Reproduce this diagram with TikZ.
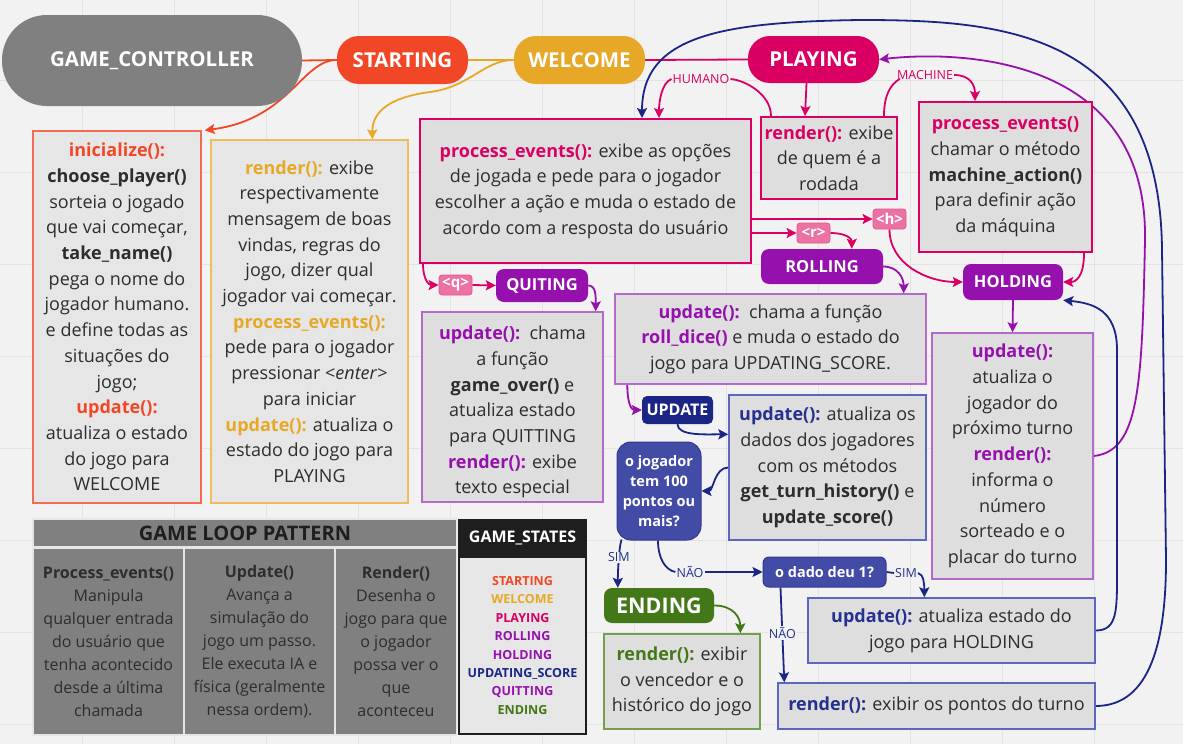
\documentclass[tikz,border=0pt]{standalone}
\usepackage{fontspec}
\setmainfont{Open Sans}
\usetikzlibrary{arrows.meta,calc}
\pgfdeclarelayer{background}
\pgfdeclarelayer{edges}
\pgfsetlayers{background,edges,main}
\definecolor{bgc}{HTML}{F2F2F2}
\definecolor{gridc}{HTML}{E3E3E3}
\definecolor{txt}{HTML}{2D2D2D}
\definecolor{txtdk}{HTML}{1E1E1E}
\definecolor{boxl}{HTML}{E6E6E6}
\definecolor{boxd}{HTML}{DEDEDE}
\definecolor{gcc}{HTML}{808080}
\definecolor{cstart}{HTML}{F24726}
\definecolor{cstartb}{HTML}{F26B52}
\definecolor{cwel}{HTML}{E6A826}
\definecolor{cwelb}{HTML}{EDBE5C}
\definecolor{cplay}{HTML}{DA0063}
\definecolor{cpink}{HTML}{EC72A3}
\definecolor{cpinkd}{HTML}{E0568D}
\definecolor{cpurp}{HTML}{9510AC}
\definecolor{cpurpb}{HTML}{B46ACD}
\definecolor{cupd}{HTML}{1A2585}
\definecolor{cblue}{HTML}{424BA6}
\definecolor{cbluedk}{HTML}{2F3894}
\definecolor{cbluet}{HTML}{25308F}
\definecolor{cblueb}{HTML}{5A66BF}
\definecolor{cgreen}{HTML}{437818}
\definecolor{cgreenb}{HTML}{73A04C}
\newcommand\fs[2]{\fontsize{#1}{#2}\selectfont}
\newcommand\kw[2]{\textcolor{#1}{\textbf{#2}}}
\begin{document}
\begin{tikzpicture}[x=1pt,y=-1pt,
  box/.style={draw=#1, line width=1.4pt, inner sep=0pt, align=center, text=txt, font=\fs{18}{25.7}},
  st/.style={fill=#1, text=white, inner sep=0pt, font=\bfseries\fs{20.5}{24}},
  sst/.style={st=#1, font=\bfseries\fs{16.5}{20}, rounded corners=8pt},
  tag/.style={fill=cpink, draw=cpinkd, line width=0.8pt, rounded corners=3pt, text=white, font=\bfseries\fs{15}{16}, minimum width=33pt, minimum height=20pt, inner sep=0pt},
  lbl/.style={font=\fs{12.5}{14}, inner sep=1pt},
  cell/.style={fill=gcc, text=txt, font=\fs{16}{23}, align=center, inner sep=0pt, minimum height=185pt},
  ln/.style={line width=1.8pt},
  arr/.style={line width=1.8pt, -{Stealth[length=10pt,width=10pt,inset=2pt]}}
]
\useasboundingbox (0,0) rectangle (1183,744);
\begin{pgfonlayer}{background}
\fill[bgc] (0,0) rectangle (1183,744);
\foreach \x in {82,174,...,1094} \draw[gridc, line width=1pt] (\x,0) -- (\x,744);
\foreach \y in {80,172,...,724} \draw[gridc, line width=1pt] (0,\y) -- (1183,\y);
\end{pgfonlayer}

% state pills
\node[st=gcc, minimum width=300pt, minimum height=91pt, rounded corners=45pt] (gc) at (152,60.5) {GAME\_CONTROLLER};
\node[st=cstart, minimum width=131pt, minimum height=48pt, rounded corners=22pt] (starting) at (402.5,60) {STARTING};
\node[st=cwel, minimum width=131pt, minimum height=48pt, rounded corners=22pt] (welcome) at (579.5,60) {WELCOME};
\node[st=cplay, minimum width=131pt, minimum height=47pt, rounded corners=22pt] (playing) at (813.5,59.5) {PLAYING};
\node[sst=cpurp, minimum width=122pt, minimum height=35pt] (rolling) at (822,266.5) {ROLLING};
\node[sst=cpurp, minimum width=92pt, minimum height=33pt] (quiting) at (542,285.5) {QUITING};
\node[sst=cpurp, minimum width=100pt, minimum height=36pt] (holding) at (1013,282) {HOLDING};
\node[sst=cupd, minimum width=71pt, minimum height=28pt, rounded corners=5pt, font=\bfseries\fs{16}{20}] (update) at (677.5,410) {UPDATE};
\node[sst=cgreen, minimum width=110pt, minimum height=35pt, font=\bfseries\fs{21.5}{24}] (ending) at (659,605.5) {ENDING};

% boxes
\node[box=cstartb, fill=boxl, minimum width=168pt, minimum height=372pt] (initbox) at (117,317) {\kw{cstart}{inicialize():}\\ \textbf{choose\_player()}\\ sorteia o jogado\\ que vai começar,\\ \textbf{take\_name()}\\ pega o nome do\\ jogador humano.\\ e define todas as\\ situações do\\ jogo;\\ \kw{cstart}{update():}\\ atualiza o estado\\ do jogo para\\ WELCOME};
\node[box=cwelb, fill=boxl, minimum width=197pt, minimum height=363pt] (welbox) at (309.5,321.5) {\kw{cwel}{render():} exibe\\ respectivamente\\ mensagem de boas\\ vindas, regras do\\ jogo, dizer qual\\ jogador vai começar.\\ \kw{cwel}{process\_events():}\\ pede para o jogador\\ pressionar <\textit{enter}>\\ para iniciar\\ \kw{cwel}{update():} atualiza o\\ estado do jogo para\\ PLAYING};
\node[box=cplay, fill=boxd, line width=2pt, minimum width=331pt, minimum height=144pt] (pebox) at (585.5,191) {\kw{cplay}{process\_events():} exibe as opções\\ de jogada e pede para o jogador\\ escolher a ação e muda o estado de\\ acordo com a resposta do usuário};
\node[box=cplay, fill=boxd, line width=2pt, minimum width=136pt, minimum height=82pt] (rendbox) at (829,158) {\kw{cplay}{render():} exibe\\ de quem é a\\ rodada};
\node[box=cplay, fill=boxd, line width=2pt, minimum width=173pt, minimum height=150pt] (machbox) at (1005.5,177) {\kw{cplay}{process\_events()}\\ chamar o método\\ \textbf{machine\_action()}\\ para definir ação\\ da máquina};
\node[box=cpurpb, fill=boxd, minimum width=181pt, minimum height=190pt] (quitbox) at (512.5,407) {\rule{0pt}{24pt}\kw{cpurp}{update():}\ \ chama\\ a função\\ \textbf{game\_over()} e\\ atualiza estado\\ para QUITTING\\ \kw{cpurp}{render():} exibe\\ texto especial};
\node[box=cpurpb, fill=boxd, minimum width=311pt, minimum height=90pt] (rollbox) at (770.5,339) {\kw{cpurp}{update():}\ \ chama a função\\ \kw{cpurp}{roll\_dice()} e muda o estado do\\ jogo para UPDATING\_SCORE.};
\node[box=cblueb, fill=boxd, minimum width=197pt, minimum height=145pt] (updbox) at (827.5,467.5) {\kw{cbluet}{update():} atualiza os\\ dados dos jogadores\\ com os métodos\\ \textbf{get\_turn\_history()} e\\ \textbf{update\_score()}};
\node[box=cpurpb, fill=boxd, minimum width=161pt, minimum height=246pt] (holdbox) at (1012.5,456) {\kw{cpurp}{update():}\\ atualiza o\\ jogador do\\ próximo turno\\ \kw{cpurp}{render():}\\ informa o\\ número\\ sorteado e o\\ placar do turno};
\node[box=cblueb, fill=boxd, minimum width=287pt, minimum height=65pt] (holdupd) at (951.5,630.5) {\kw{cbluet}{update():} atualiza estado do\\ jogo para HOLDING};
\node[box=cblueb, fill=boxd, minimum width=317pt, minimum height=46pt] (renderpts) at (936.5,706) {\kw{cbluet}{render():} exibir os pontos do turno};
\node[box=cgreenb, fill=boxd, minimum width=156pt, minimum height=95pt] (endbox) at (682,681.5) {\kw{cgreen}{render():} exibir\\ o vencedor e o\\ histórico do jogo};

% tags
\node[tag] (htag) at (889.5,219) {<h>};
\node[tag] (rtag) at (813.5,233) {<r>};
\node[tag] (qtag) at (455.5,285) {<q>};

% decisions
\node[fill=cblue, draw=cbluedk, line width=1pt, text=white, font=\bfseries\fs{14.5}{20}, rounded corners=14pt, minimum width=84pt, minimum height=98pt, align=center, inner sep=0pt] (dec) at (659,491) {o jogador\\ tem 100\\ pontos ou\\ mais?};
\node[fill=cblue, draw=cbluedk, line width=1pt, text=white, font=\bfseries\fs{14.5}{18}, rounded corners=6pt, minimum width=123pt, minimum height=30pt, inner sep=0pt] (dado) at (824.5,572) {o dado deu 1?};

% game loop table
\fill[boxl] (32,518) rectangle (457,736);
\node[fill=gcc, text=txtdk, font=\bfseries\fs{20}{24}, minimum width=422pt, minimum height=26pt, inner sep=0pt] (glp) at (245,533) {GAME LOOP PATTERN};
\node[cell, minimum width=149pt] (c1) at (108.5,641.5) {\textbf{Process\_events()}\\ Manipula\\ qualquer entrada\\ do usuário que\\ tenha acontecido\\ desde a última\\ chamada};
\node[cell, minimum width=149pt] (c2) at (259.5,641.5) {\textbf{Update()}\\ Avança a\\ simulação do\\ jogo um passo.\\ Ele executa IA e\\ física (geralmente\\ nessa ordem).};
\node[cell, minimum width=120pt] (c3) at (396,641.5) {\textbf{Render()}\\ Desenha o\\ jogo para que\\ o jogador\\ possa ver o\\ que\\ aconteceu};

% game states legend
\node[fill=txtdk, text=white, font=\bfseries\fs{16}{20}, minimum width=129pt, minimum height=37pt, inner sep=0pt] (gsh) at (522.5,537.5) {GAME\_STATES};
\node[draw=txtdk, line width=2pt, fill=boxl, minimum width=127pt, minimum height=177pt, align=center, inner sep=0pt, font=\bfseries\fs{12.5}{18.4}] (gsb) at (522.5,645.5) {\textcolor{cstart}{STARTING}\\ \textcolor{cwel}{WELCOME}\\ \textcolor{cplay}{PLAYING}\\ \textcolor{cpurp}{ROLLING}\\ \textcolor{cpurp}{HOLDING}\\ \textcolor{cupd}{UPDATING\_SCORE}\\ \textcolor{cpurp}{QUITTING}\\ \textcolor{cgreen}{ENDING}};

% connectors
\begin{pgfonlayer}{edges}
\draw[ln, cstart] (gc.east) -- (starting.west);
\draw[arr, cstart] (starting.west) .. controls +(-35,0) and +(85,-11) .. ($(initbox.north east)+(3,0)$);
\draw[ln, cwel] (starting.east) -- (welcome.west);
\coordinate (wmid) at (430,92);
\draw[arr, cwel] (welcome.west) .. controls +(-30,0) and +(40,-5) .. (wmid) .. controls +(-45,6) and +(0,-25) .. ($(welbox.north west)+(162,0)$);
\draw[ln, cplay] (welcome.east) -- (playing.west);
\draw[arr, cplay] ($(playing.south)+(-7,0)$) -- ($(rendbox.north west)+(45,0)$);

\node[lbl, text=cplay] (humano) at (701,79) {HUMANO};
\draw[ln, cplay] ($(rendbox.north west)+(11,0)$) .. controls +(0,-22) and +(14,1) .. (humano.east);
\draw[arr, cplay] (humano.west) .. controls +(-10,4) and +(0,-16) .. ($(pebox.north west)+(240,0)$);
\node[lbl, text=cplay] (machine) at (925,75) {MACHINE};
\draw[ln, cplay] ($(rendbox.north east)+(-14,0)$) .. controls +(0,-20) and +(-10,6) .. ($(machine.south west)+(4,-2)$);
\draw[arr, cplay] (machine.east) .. controls +(16,0) and +(0,-16) .. ($(machbox.north west)+(57,0)$);

\draw[arr, cplay] (pebox.east |- htag.west) -- (htag.west);
\draw[arr, cplay] (pebox.east |- rtag.west) -- (rtag.west);
\draw[arr, cplay] (rtag.east) .. controls +(16,0) and +(0,-10) .. ($(rolling.north west)+(91,0)$);
\draw[arr, cplay] ($(pebox.south west)+(4,0)$) .. controls +(0,15) and +(-10,0) .. (qtag.west);
\draw[arr, cplay] (qtag.east) -- (quiting.west);
\draw[arr, cpurp] (quiting.east) .. controls +(8,0) and +(0,-15) .. ($(quitbox.north east)+(-8,0)$);
\draw[arr, cpurp] (rolling.east) .. controls +(15,0) and +(0,-15) .. ($(rollbox.north east)+(-23,0)$);
\draw[arr, cplay] (htag.south) .. controls +(0,35) and +(-35,0) .. (holding.west);
\draw[arr, cplay] ($(machbox.south east)+(-9,0)$) .. controls +(0,25) and +(12,0) .. (holding.east);
\draw[arr, cpurp] (holding.south) -- (holdbox.north);

\coordinate (pr) at (1145,240);
\draw[arr, cpurp] (holdbox.east) .. controls +(45,-5) and +(-3,150) .. (pr) .. controls +(3,-190) and +(70,-8) .. (playing.east);

\draw[arr, cpurp] ($(rollbox.south west)+(13,0)$) .. controls +(0,20) and +(-10,0) .. (update.west);
\draw[arr, cupd] (update.south) .. controls +(0,12) and +(-22,0) .. ($(updbox.north west)+(0,40)$);
\draw[arr, cupd] (updbox.west) .. controls +(-14,0) and +(12,0) .. (dec.east);

\draw[arr, cupd] ($(dec.south west)+(5,-1)$) .. controls +(-3,10) and +(0,-12) .. node[lbl, fill=bgc, text=cbluet, pos=0.4] {SIM} ($(ending.north west)+(14,0)$);
\node[lbl, text=cbluet] (nao1) at (690,572) {NÃO};
\draw[ln, cupd] ($(dec.south)+(-1,0)$) .. controls +(0,18) and +(-10,-2) .. (nao1.west);
\draw[arr, cupd] (nao1.east) -- (dado.west);
\node[lbl, text=cbluet] (sim2) at (906,573) {SIM};
\draw[ln, cupd] (dado.east) -- (sim2.west);
\draw[arr, cupd] (sim2.east) .. controls +(6,1) and +(0,-12) .. ($(holdupd.north west)+(117,0)$);
\draw[arr, cupd] ($(dado.south west)+(18,0)$) -- node[lbl, fill=bgc, text=cbluet, pos=0.48] {NÃO} ($(renderpts.north west)+(7,0)$);

\draw[arr, cgreen] (ending.east) .. controls +(20,0) and +(0,-15) .. ($(endbox.north west)+(137,0)$);

\coordinate (hb1) at (1117,570);
\coordinate (hb2) at (1117,350);
\draw[arr, cupd] (holdupd.east) .. controls +(22,0) and +(0,40) .. (hb1) -- (hb2) .. controls +(0,-40) and +(30,3) .. (holding.south east);

\coordinate (bb1) at (1166,560);
\coordinate (bb2) at (1162,250);
\coordinate (bb3) at (860,20);
\draw[arr, cupd] (renderpts.east) .. controls +(55,0) and +(0,80) .. (bb1) -- (bb2) .. controls +(-2,-220) and +(140,0) .. (bb3) .. controls +(-140,2) and +(0,-82) .. ($(pebox.north west)+(223,0)$);
\end{pgfonlayer}
\end{tikzpicture}
\end{document}
